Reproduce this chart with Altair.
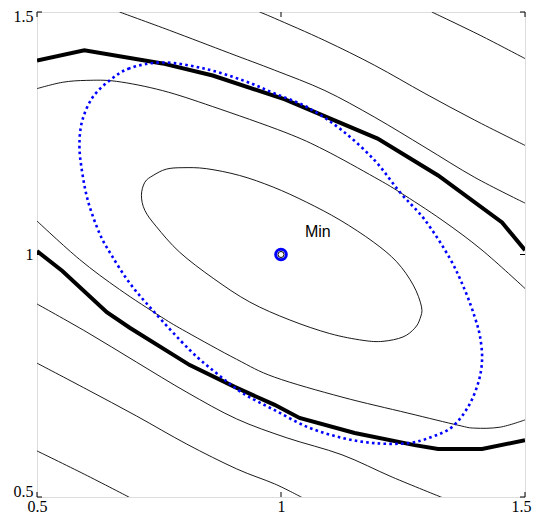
import altair as alt
import pandas as pd

# ---- axis ticks ----
ticks = [0.5, 1.0, 1.5]

# ---- thick contour (two branches) ----
thick_up_x = [0.5, 0.597, 0.757, 0.860, 1.008, 1.198, 1.322, 1.453, 1.5]
thick_up_y = [1.400, 1.421, 1.394, 1.369, 1.320, 1.239, 1.163, 1.066, 1.009]
thick_lo_x = [0.5, 0.552, 0.643, 0.690, 0.813, 0.905, 0.987, 1.038, 1.151, 1.274, 1.322, 1.412, 1.5]
thick_lo_y = [1.007, 0.966, 0.881, 0.849, 0.772, 0.727, 0.690, 0.663, 0.632, 0.607, 0.599, 0.599, 0.617]

# ---- thin contours (open) ----
e_x = [0.5, 0.552, 0.602, 0.663, 0.757, 0.860, 1.008, 1.090, 1.192, 1.244, 1.330, 1.412, 1.5]
e_y = [1.342, 1.355, 1.359, 1.357, 1.338, 1.305, 1.252, 1.215, 1.159, 1.128, 1.071, 1.009, 0.930]
f_x = [0.5, 0.587, 0.669, 0.755, 0.807, 0.909, 0.987, 1.125, 1.260, 1.363, 1.397, 1.449, 1.5]
f_y = [1.069, 0.990, 0.928, 0.871, 0.840, 0.784, 0.747, 0.706, 0.673, 0.648, 0.642, 0.644, 0.659]
a_x = [1.309, 1.408, 1.5]
a_y = [1.5, 1.452, 1.404]
b_x = [0.956, 0.987, 1.090, 1.192, 1.295, 1.397, 1.5]
b_y = [1.5, 1.487, 1.441, 1.390, 1.332, 1.277, 1.225]
c_x = [0.669, 0.772, 0.895, 0.987, 1.090, 1.192, 1.295, 1.397, 1.5]
c_y = [1.5, 1.462, 1.415, 1.380, 1.338, 1.283, 1.221, 1.159, 1.106]
g_x = [0.5, 0.602, 0.704, 0.807, 0.909, 1.012, 1.125, 1.228, 1.330]
g_y = [0.898, 0.840, 0.778, 0.716, 0.661, 0.622, 0.587, 0.541, 0.499]
h_x = [0.5, 0.602, 0.704, 0.807, 0.909, 0.987, 1.043]
h_y = [0.776, 0.722, 0.667, 0.609, 0.558, 0.527, 0.499]
i_x = [0.5, 0.597, 0.690]
i_y = [0.595, 0.547, 0.499]

# ---- inner closed contour ----
in_x = [0.714, 0.721, 0.738, 0.765, 0.799, 0.847, 0.915, 0.984, 1.052, 1.121, 1.189, 1.237, 1.271,
        1.288, 1.285, 1.274, 1.250, 1.209, 1.168, 1.100, 1.018, 0.936, 0.861, 0.792, 0.745, 0.721]
in_y = [1.122, 1.149, 1.163, 1.176, 1.179, 1.177, 1.163, 1.139, 1.108, 1.071, 1.026, 0.985, 0.937,
        0.892, 0.868, 0.848, 0.830, 0.821, 0.823, 0.837, 0.865, 0.902, 0.951, 1.005, 1.057, 1.091]

# ---- dotted ellipse ----
el_x = [0.757, 0.690, 0.649, 0.614, 0.593, 0.587, 0.591, 0.604, 0.628, 0.653, 0.690, 0.737,
        0.813, 0.868, 0.922, 0.987, 1.055, 1.125, 1.192, 1.260, 1.309, 1.350, 1.383, 1.404,
        1.412, 1.408, 1.397, 1.377, 1.346, 1.295, 1.244, 1.192, 1.125, 1.055, 0.987, 0.922, 0.840]
el_y = [1.396, 1.384, 1.359, 1.324, 1.277, 1.229, 1.180, 1.112, 1.044, 0.998, 0.941, 0.885,
        0.803, 0.755, 0.714, 0.679, 0.644, 0.622, 0.611, 0.611, 0.624, 0.644, 0.685, 0.735,
        0.782, 0.830, 0.871, 0.926, 0.992, 1.071, 1.128, 1.194, 1.256, 1.303, 1.332, 1.359, 1.384]

# ---- minimum marker and label ----
min_x = [1.0]
min_y = [1.0]
label_x = [1.049]
label_y = [1.036]
label_text = ["Min"]


def frame(name, xs, ys):
    return pd.DataFrame({"x": xs, "y": ys, "i": list(range(len(xs))), "c": name})


W, H = 488, 485
scale_x = alt.Scale(domain=[0.5, 1.5], nice=False, zero=False)
scale_y = alt.Scale(domain=[0.5, 1.5], nice=False, zero=False)
axis_common = dict(values=ticks, format="~g", grid=False, domain=False, ticks=False,
                   labelFont="Liberation Serif", labelFontSize=16, labelColor="black",
                   labelFlush=False, labelOverlap=False, title=None)
X = alt.X("x:Q", scale=scale_x, axis=alt.Axis(
    labelPadding=1,
    labelAlign={"condition": {"test": "datum.value == 1.5", "value": "right"}, "value": "center"},
    labelOffset={"condition": {"test": "datum.value == 1.5", "value": 6}, "value": 0},
    **axis_common))
Y = alt.Y("y:Q", scale=scale_y, axis=alt.Axis(
    labelPadding=4,
    labelOffset={"condition": [{"test": "datum.value == 1.5", "value": 4},
                               {"test": "datum.value == 0.5", "value": -6}], "value": 0},
    **axis_common))

thin_df = pd.concat([frame("e", e_x, e_y), frame("f", f_x, f_y), frame("a", a_x, a_y),
                     frame("b", b_x, b_y), frame("c", c_x, c_y), frame("g", g_x, g_y),
                     frame("h", h_x, h_y), frame("i", i_x, i_y)])
thin = alt.Chart(thin_df).mark_line(color="black", strokeWidth=0.9, interpolate="cardinal",
                                    clip=True).encode(x=X, y=Y, order="i:Q", detail="c:N")

inner = alt.Chart(frame("in", in_x, in_y)).mark_line(
    color="black", strokeWidth=0.9, interpolate="cardinal-closed", clip=True
).encode(x=X, y=Y, order="i:Q")

thick_df = pd.concat([frame("up", thick_up_x, thick_up_y), frame("lo", thick_lo_x, thick_lo_y)])
thick = alt.Chart(thick_df).mark_line(color="black", strokeWidth=4, clip=True,
                                      strokeJoin="miter").encode(
    x=X, y=Y, order="i:Q", detail="c:N")

ellipse = alt.Chart(frame("el", el_x, el_y)).mark_line(
    color="#0000ff", strokeWidth=2.6, strokeDash=[2.6, 3.2], interpolate="cardinal-closed",
    clip=True
).encode(x=X, y=Y, order="i:Q")

min_df = pd.DataFrame({"x": min_x, "y": min_y})
ring = alt.Chart(min_df).mark_point(shape="circle", filled=False, size=113, strokeWidth=3,
                                    color="#0000ff", opacity=1).encode(x=X, y=Y)
dot = alt.Chart(min_df).mark_point(shape="circle", filled=False, size=36, strokeWidth=1,
                                   color="black", opacity=1).encode(x=X, y=Y)

label = alt.Chart(pd.DataFrame({"x": label_x, "y": label_y, "t": label_text})).mark_text(
    align="left", baseline="alphabetic", font="Liberation Sans", fontSize=16, color="black"
).encode(x=X, y=Y, text="t:N")

tick_df = pd.DataFrame({"v": ticks})
tb = alt.Chart(tick_df).mark_rule(color="black", strokeWidth=1).encode(
    x=alt.X("v:Q", scale=scale_x), y=alt.value(H), y2=alt.value(H - 5))
tt = alt.Chart(tick_df).mark_rule(color="black", strokeWidth=1).encode(
    x=alt.X("v:Q", scale=scale_x), y=alt.value(0), y2=alt.value(5))
tl = alt.Chart(tick_df).mark_rule(color="black", strokeWidth=1).encode(
    y=alt.Y("v:Q", scale=scale_y), x=alt.value(0), x2=alt.value(5))
tr = alt.Chart(tick_df).mark_rule(color="black", strokeWidth=1).encode(
    y=alt.Y("v:Q", scale=scale_y), x=alt.value(W), x2=alt.value(W - 5))

chart = alt.layer(thin, inner, thick, ellipse, ring, dot, label, tb, tt, tl, tr).properties(
    width=W, height=H,
    autosize=alt.AutoSizeParams(type="none"),
    padding={"left": 29, "top": 4, "right": 7, "bottom": 18},
).configure_view(stroke="black", strokeWidth=1).configure(background="white")

chart.save("out.html", embed_options={"renderer": "svg", "actions": False})
